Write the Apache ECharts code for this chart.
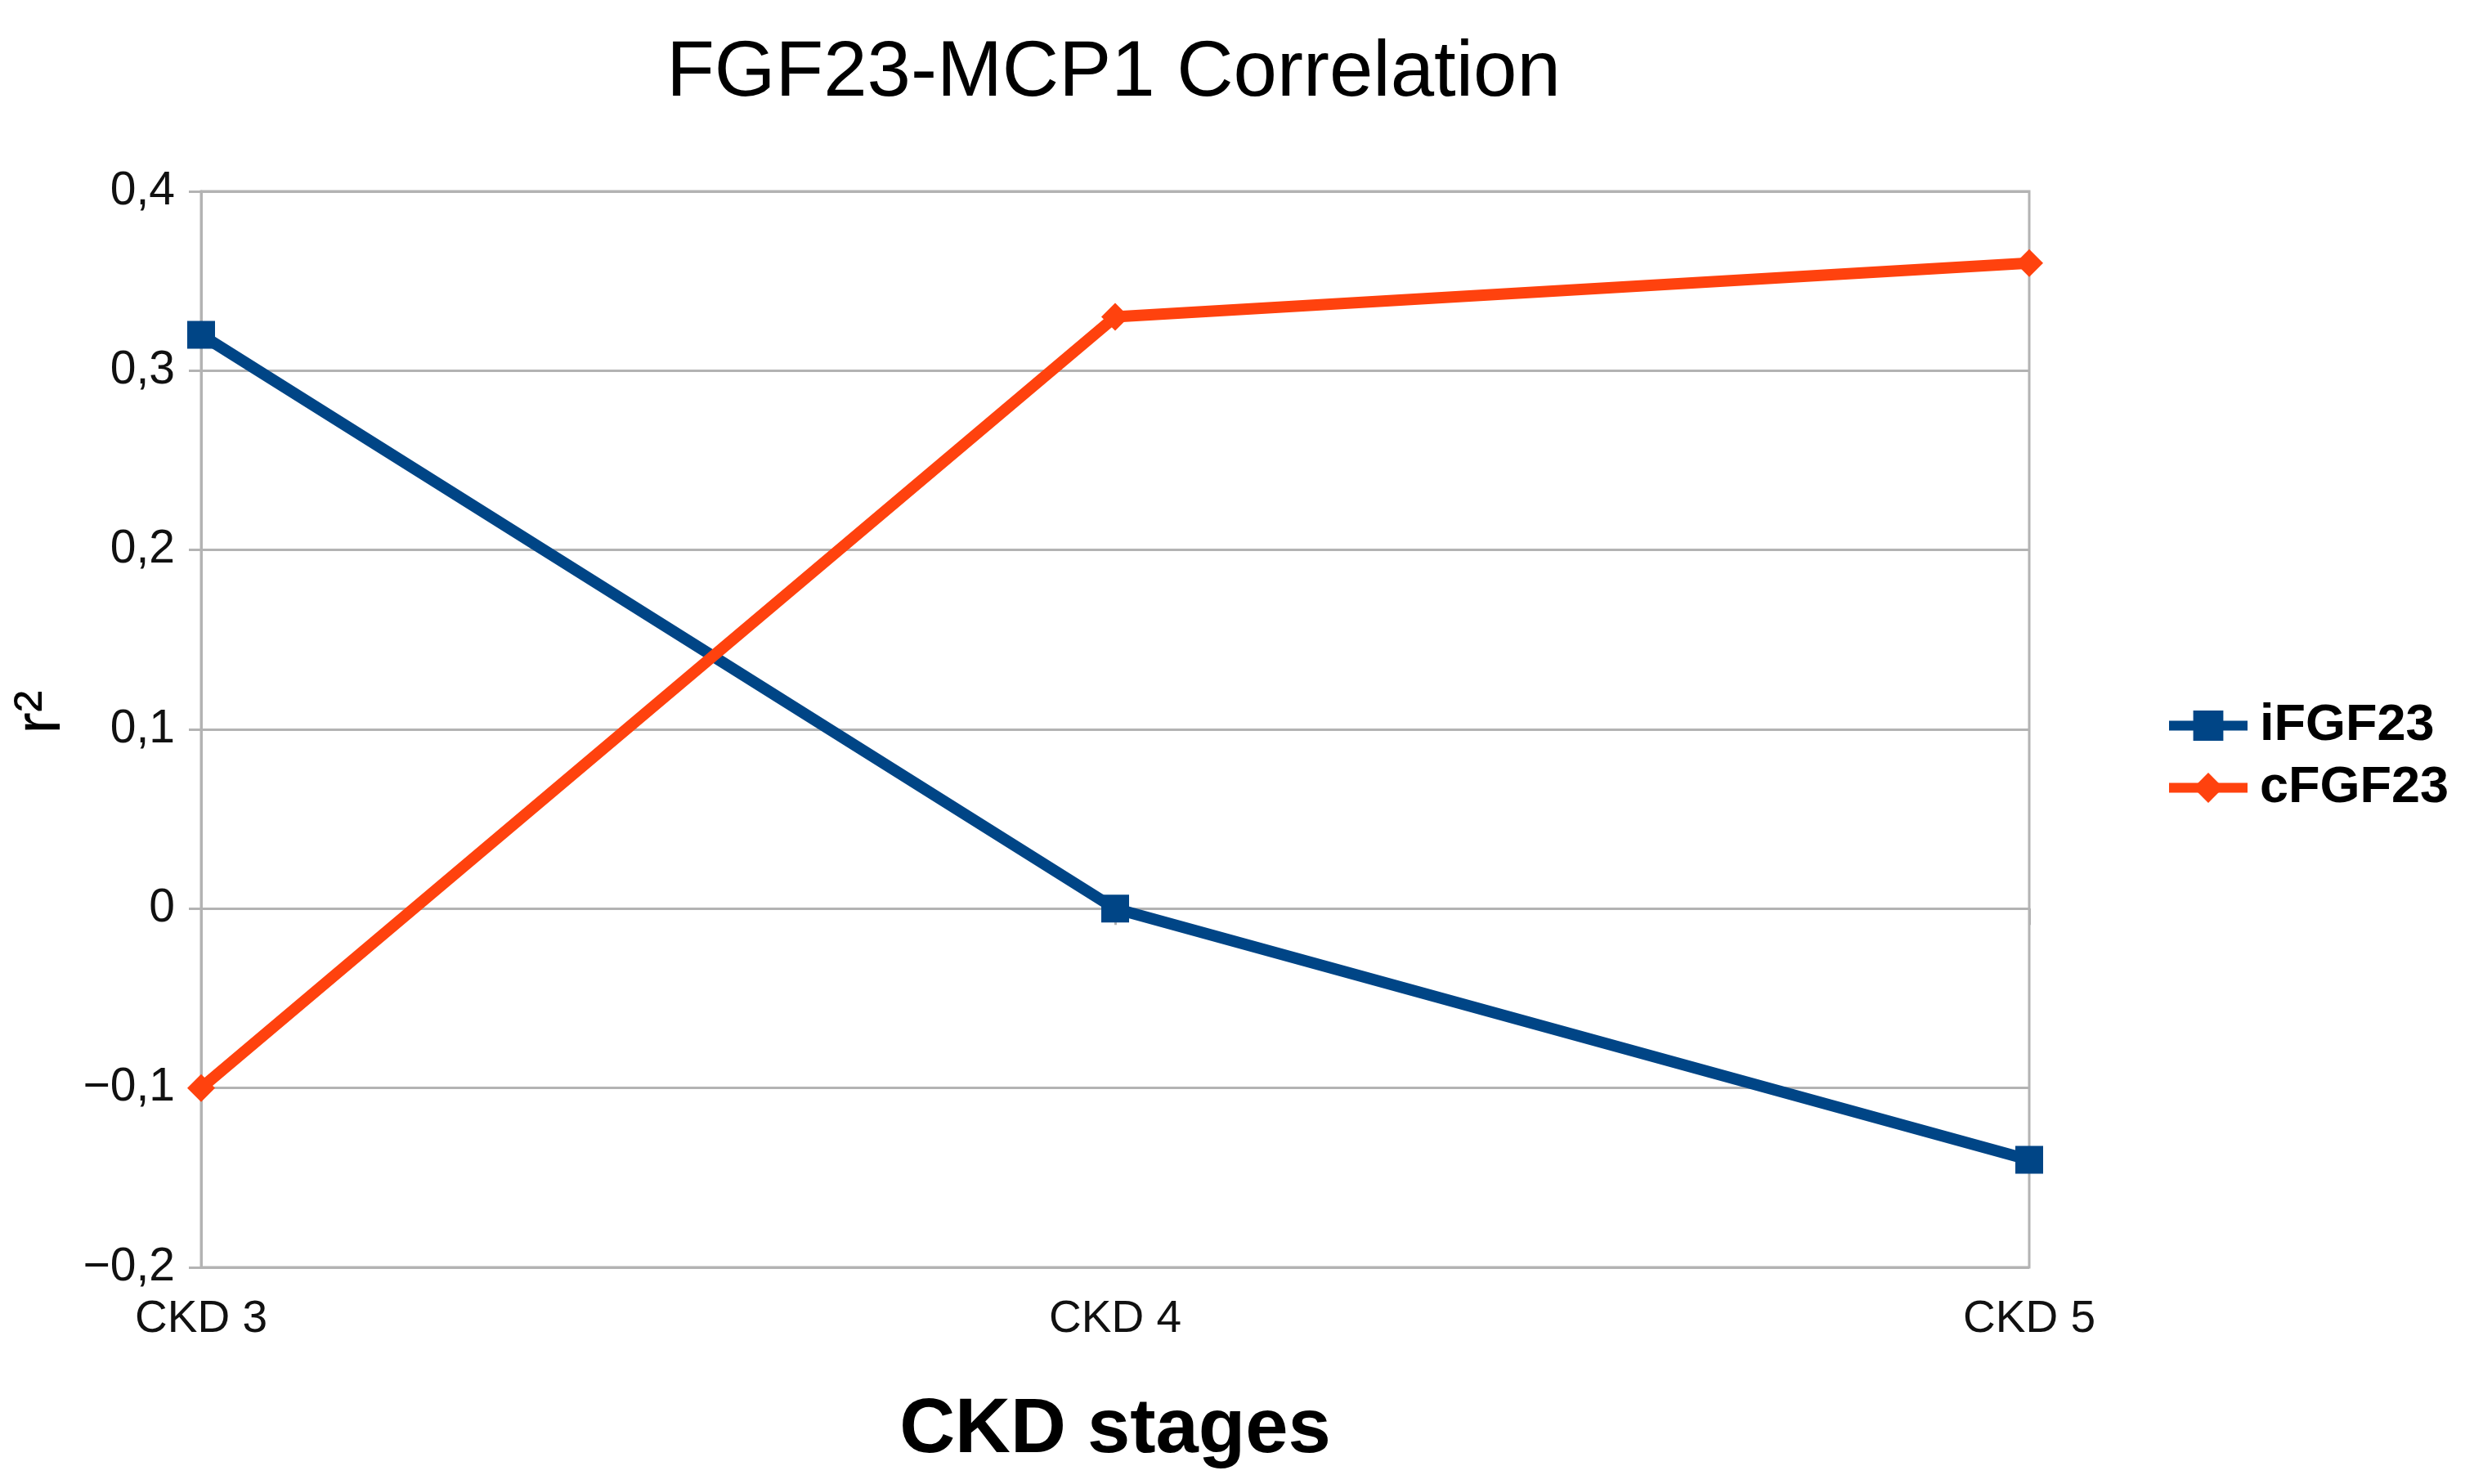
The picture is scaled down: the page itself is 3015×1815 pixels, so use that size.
<!DOCTYPE html>
<html>
<head>
<meta charset="utf-8">
<script src="https://cdn.jsdelivr.net/npm/echarts@6/dist/echarts.min.js"></script>
<style>
html,body{margin:0;padding:0;background:#fff;}
#c{width:3015px;height:1815px;}
</style>
</head>
<body>
<div id="c"></div>
<script>
const categories = ['CKD 3', 'CKD 4', 'CKD 5'];
const iFGF23 = [0.32, 0.0, -0.14];
const cFGF23 = [-0.1, 0.33, 0.36];
const yTickValues = [-0.2, -0.1, 0, 0.1, 0.2, 0.3, 0.4];
const yTickLabels = ['\u22120,2', '\u22120,1', '0', '0,1', '0,2', '0,3', '0,4'];
const seriesNames = ['iFGF23', 'cFGF23'];

const FONT = 'Liberation Sans, Arial, sans-serif';
const GRID_COLOR = '#b3b3b3';

const chart = echarts.init(document.getElementById('c'), null, {renderer: 'canvas'});
chart.setOption({
  backgroundColor: '#ffffff',
  animation: false,
  title: {
    text: 'FGF23-MCP1 Correlation',
    left: 1357,
    textAlign: 'center',
    top: 38,
    textStyle: {fontFamily: FONT, fontSize: 96, fontWeight: 'normal', color: '#000'}
  },
  legend: {
    orient: 'vertical',
    left: 2642,
    top: 851,
    itemWidth: 96,
    itemHeight: 46,
    itemGap: 13,
    data: seriesNames,
    lineStyle: {width: 12},
    textStyle: {fontFamily: FONT, fontSize: 63, fontWeight: 'bold', color: '#000', padding: [0, 0, 0, 10]}
  },
  grid: {
    left: 246, right: 533, top: 234, bottom: 265,
    outerBoundsMode: 'none',
    show: true, borderColor: GRID_COLOR, borderWidth: 3, containLabel: false
  },
  xAxis: {
    type: 'category',
    data: categories,
    boundaryGap: false,
    name: 'CKD stages',
    nameLocation: 'middle',
    nameGap: 153,
    nameTextStyle: {fontFamily: FONT, fontSize: 94, fontWeight: 'bold', color: '#000'},
    axisLine: {show: true, lineStyle: {color: GRID_COLOR, width: 3}},
    axisTick: {show: true, length: 20, lineStyle: {color: GRID_COLOR, width: 3}},
    axisLabel: {fontFamily: FONT, fontSize: 55, color: '#111', margin: 36},
    splitLine: {show: false}
  },
  yAxis: {
    type: 'value',
    min: yTickValues[0],
    max: yTickValues[yTickValues.length - 1],
    interval: 0.1,
    name: 'r\u00B2',
    nameLocation: 'middle',
    nameGap: 151,
    nameRotate: 90,
    nameTextStyle: {fontFamily: FONT, fontSize: 80, color: '#000', padding: [0, 0, 0, 42]},
    axisLine: {show: true, lineStyle: {color: GRID_COLOR, width: 3}},
    axisTick: {show: true, length: 15, lineStyle: {color: GRID_COLOR, width: 3}},
    axisLabel: {
      fontFamily: FONT, fontSize: 57, color: '#111', margin: 32,
      formatter: function (v) {
        let best = 0, bd = Infinity;
        yTickValues.forEach(function (t, i) { const d = Math.abs(t - v); if (d < bd) { bd = d; best = i; } });
        return yTickLabels[best];
      }
    },
    splitLine: {show: true, lineStyle: {color: GRID_COLOR, width: 3}}
  },
  series: [
    {
      name: seriesNames[0],
      type: 'line',
      data: iFGF23,
      symbol: 'rect',
      symbolSize: 34,
      color: '#004586',
      lineStyle: {width: 14, color: '#004586'},
      itemStyle: {color: '#004586'}
    },
    {
      name: seriesNames[1],
      type: 'line',
      data: cFGF23,
      symbol: 'diamond',
      symbolSize: 34,
      color: '#ff420e',
      lineStyle: {width: 14, color: '#ff420e'},
      itemStyle: {color: '#ff420e'}
    }
  ]
});
</script>
</body>
</html>
